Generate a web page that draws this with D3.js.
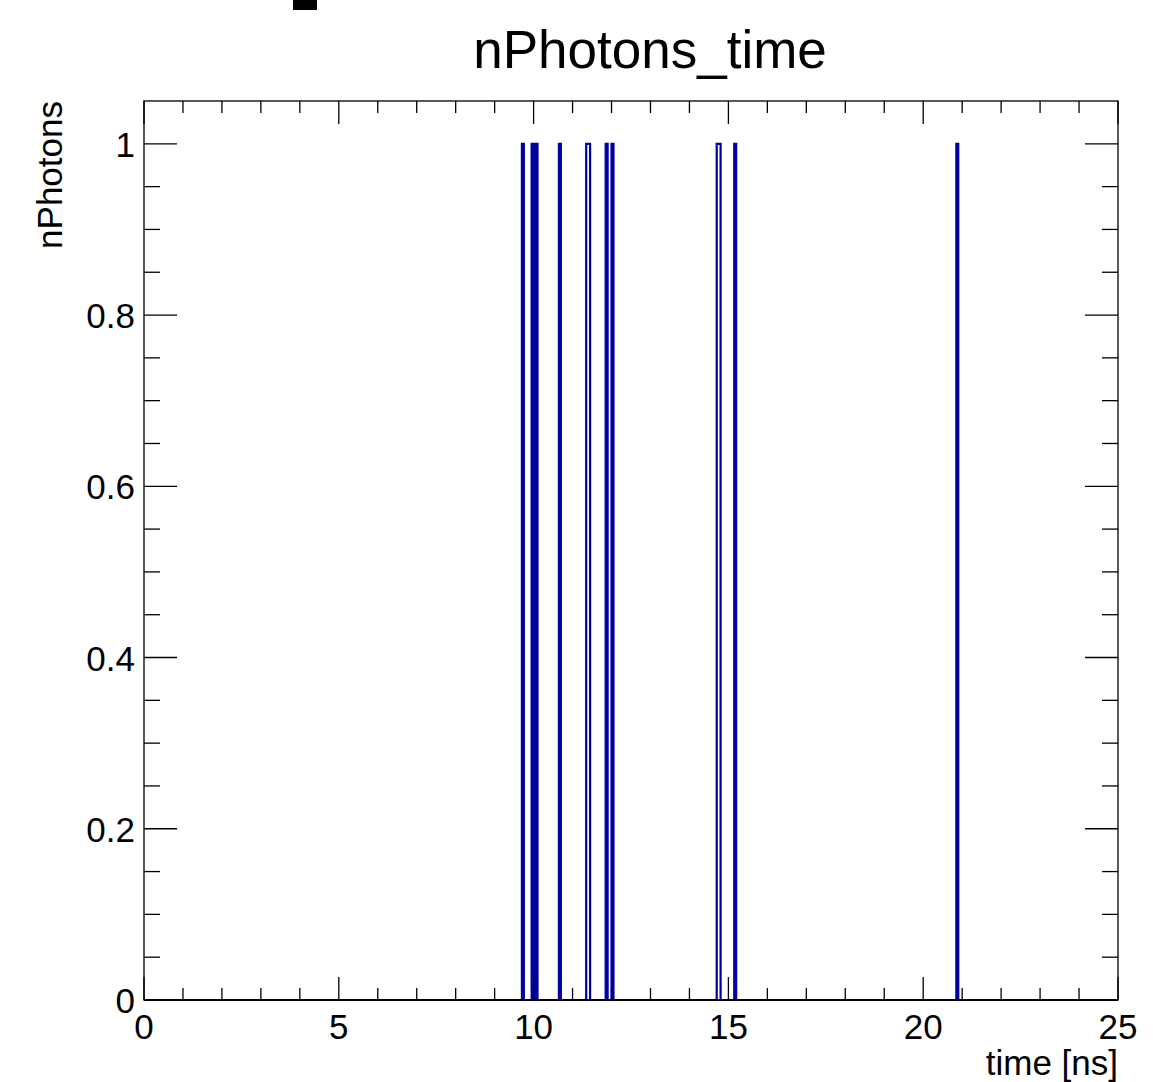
<html>
  <head>
    <meta charset="utf-8">
    <title>nPhotons_time</title>
    <style>
      body { margin: 0; background: #fff; }
      text { font-family: "Liberation Sans", Arial, Helvetica, sans-serif; fill: #000; }
    </style>
  </head>
  <body>
    <script src="https://d3js.org/d3.v7.min.js" charset="utf-8"></script>
    <script>

    var width = 1153,
        height = 1082;

    // histogram definition: 500 bins of 0.05 ns between 0 and 25 ns
    var binWidth = 0.05;
    var xMin = 0, xMax = 25;
    // low edges (ns) of the bins that hold one photon each
    var hitBins = [9.70, 9.95, 10.05, 10.65, 11.35, 11.40, 11.85, 12.00, 14.70, 14.75, 15.15, 20.85];
    var hitCounts = [1, 1, 1, 1, 1, 1, 1, 1, 1, 1, 1, 1];

    var xTickLabels = [0, 5, 10, 15, 20, 25];
    var yTickLabels = [0, 0.2, 0.4, 0.6, 0.8, 1];

    var margin = {left: 144, right: 35, top: 101, bottom: 82};

    var svg = d3.select("body").append("svg")
                .attr("width", width)
                .attr("height", height);

    var x = d3.scaleLinear().domain([xMin, xMax]).range([margin.left, width - margin.right]);
    var y = d3.scaleLinear().domain([0, 1.05]).range([height - margin.bottom, margin.top]);

    // black block at the top (cut stats box)
    svg.append("rect").attr("x", 293).attr("y", 0).attr("width", 24).attr("height", 10).attr("fill", "#000");

    // fill bins
    var nBins = Math.round((xMax - xMin) / binWidth);
    var counts = new Array(nBins).fill(0);
    hitBins.forEach(function(t, i) {
      counts[Math.round((t - xMin) / binWidth)] += hitCounts[i];
    });
    var pts = counts.map(function(c, i) { return [xMin + i * binWidth, c]; });
    pts.push([xMax, 0]);

    var line = d3.line()
                 .x(function(d) { return x(d[0]); })
                 .y(function(d) { return y(d[1]); })
                 .curve(d3.curveStepAfter);

    svg.append("path").datum(pts)
       .attr("d", line)
       .attr("fill", "none")
       .attr("stroke", "#0000a0")
       .attr("stroke-width", 2.2);

    // frame (drawn after the histogram, like ROOT does)
    var x0 = x(xMin), x1 = x(xMax), y0 = y(0), y1 = margin.top;
    svg.append("rect").attr("x", x0).attr("y", y1).attr("width", x1 - x0).attr("height", y0 - y1)
       .attr("fill", "none").attr("stroke", "#000").attr("stroke-width", 1.3);
    svg.append("line").attr("x1", x0).attr("x2", x1).attr("y1", y0).attr("y2", y0)
       .attr("stroke", "#000").attr("stroke-width", 1.6);

    var ticks = svg.append("g").attr("stroke", "#000").attr("stroke-width", 1.3);

    // x ticks, bottom and top
    d3.range(0, 26, 1).forEach(function(v) {
      var len = (v % 5 === 0) ? 23 : 12;
      ticks.append("line").attr("x1", x(v)).attr("x2", x(v)).attr("y1", y0).attr("y2", y0 - len);
      ticks.append("line").attr("x1", x(v)).attr("x2", x(v)).attr("y1", y1).attr("y2", y1 + len);
    });

    // y ticks, left and right
    d3.range(0, 21, 1).forEach(function(k) {
      var v = k * 0.05;
      var len = (k % 4 === 0) ? 33 : 16;
      ticks.append("line").attr("x1", x0).attr("x2", x0 + len).attr("y1", y(v)).attr("y2", y(v));
      ticks.append("line").attr("x1", x1).attr("x2", x1 - len).attr("y1", y(v)).attr("y2", y(v));
    });

    // tick labels
    svg.selectAll(".xl").data(xTickLabels).enter().append("text")
       .attr("x", function(d) { return x(d); })
       .attr("y", 1039)
       .attr("text-anchor", "middle")
       .attr("font-size", 35)
       .text(function(d) { return d; });

    svg.selectAll(".yl").data(yTickLabels).enter().append("text")
       .attr("x", 135)
       .attr("y", function(d) { return y(d) + 13; })
       .attr("text-anchor", "end")
       .attr("font-size", 35)
       .text(function(d) { return d; });

    // titles
    svg.append("text").attr("x", 650).attr("y", 68)
       .attr("text-anchor", "middle").attr("font-size", 53)
       .text("nPhotons_time");

    svg.append("text").attr("x", x1).attr("y", 1075)
       .attr("text-anchor", "end").attr("font-size", 35)
       .text("time [ns]");

    svg.append("text")
       .attr("transform", "translate(62," + y1 + ") rotate(-90)")
       .attr("text-anchor", "end").attr("font-size", 35)
       .text("nPhotons");

    </script>
  </body>
</html>
